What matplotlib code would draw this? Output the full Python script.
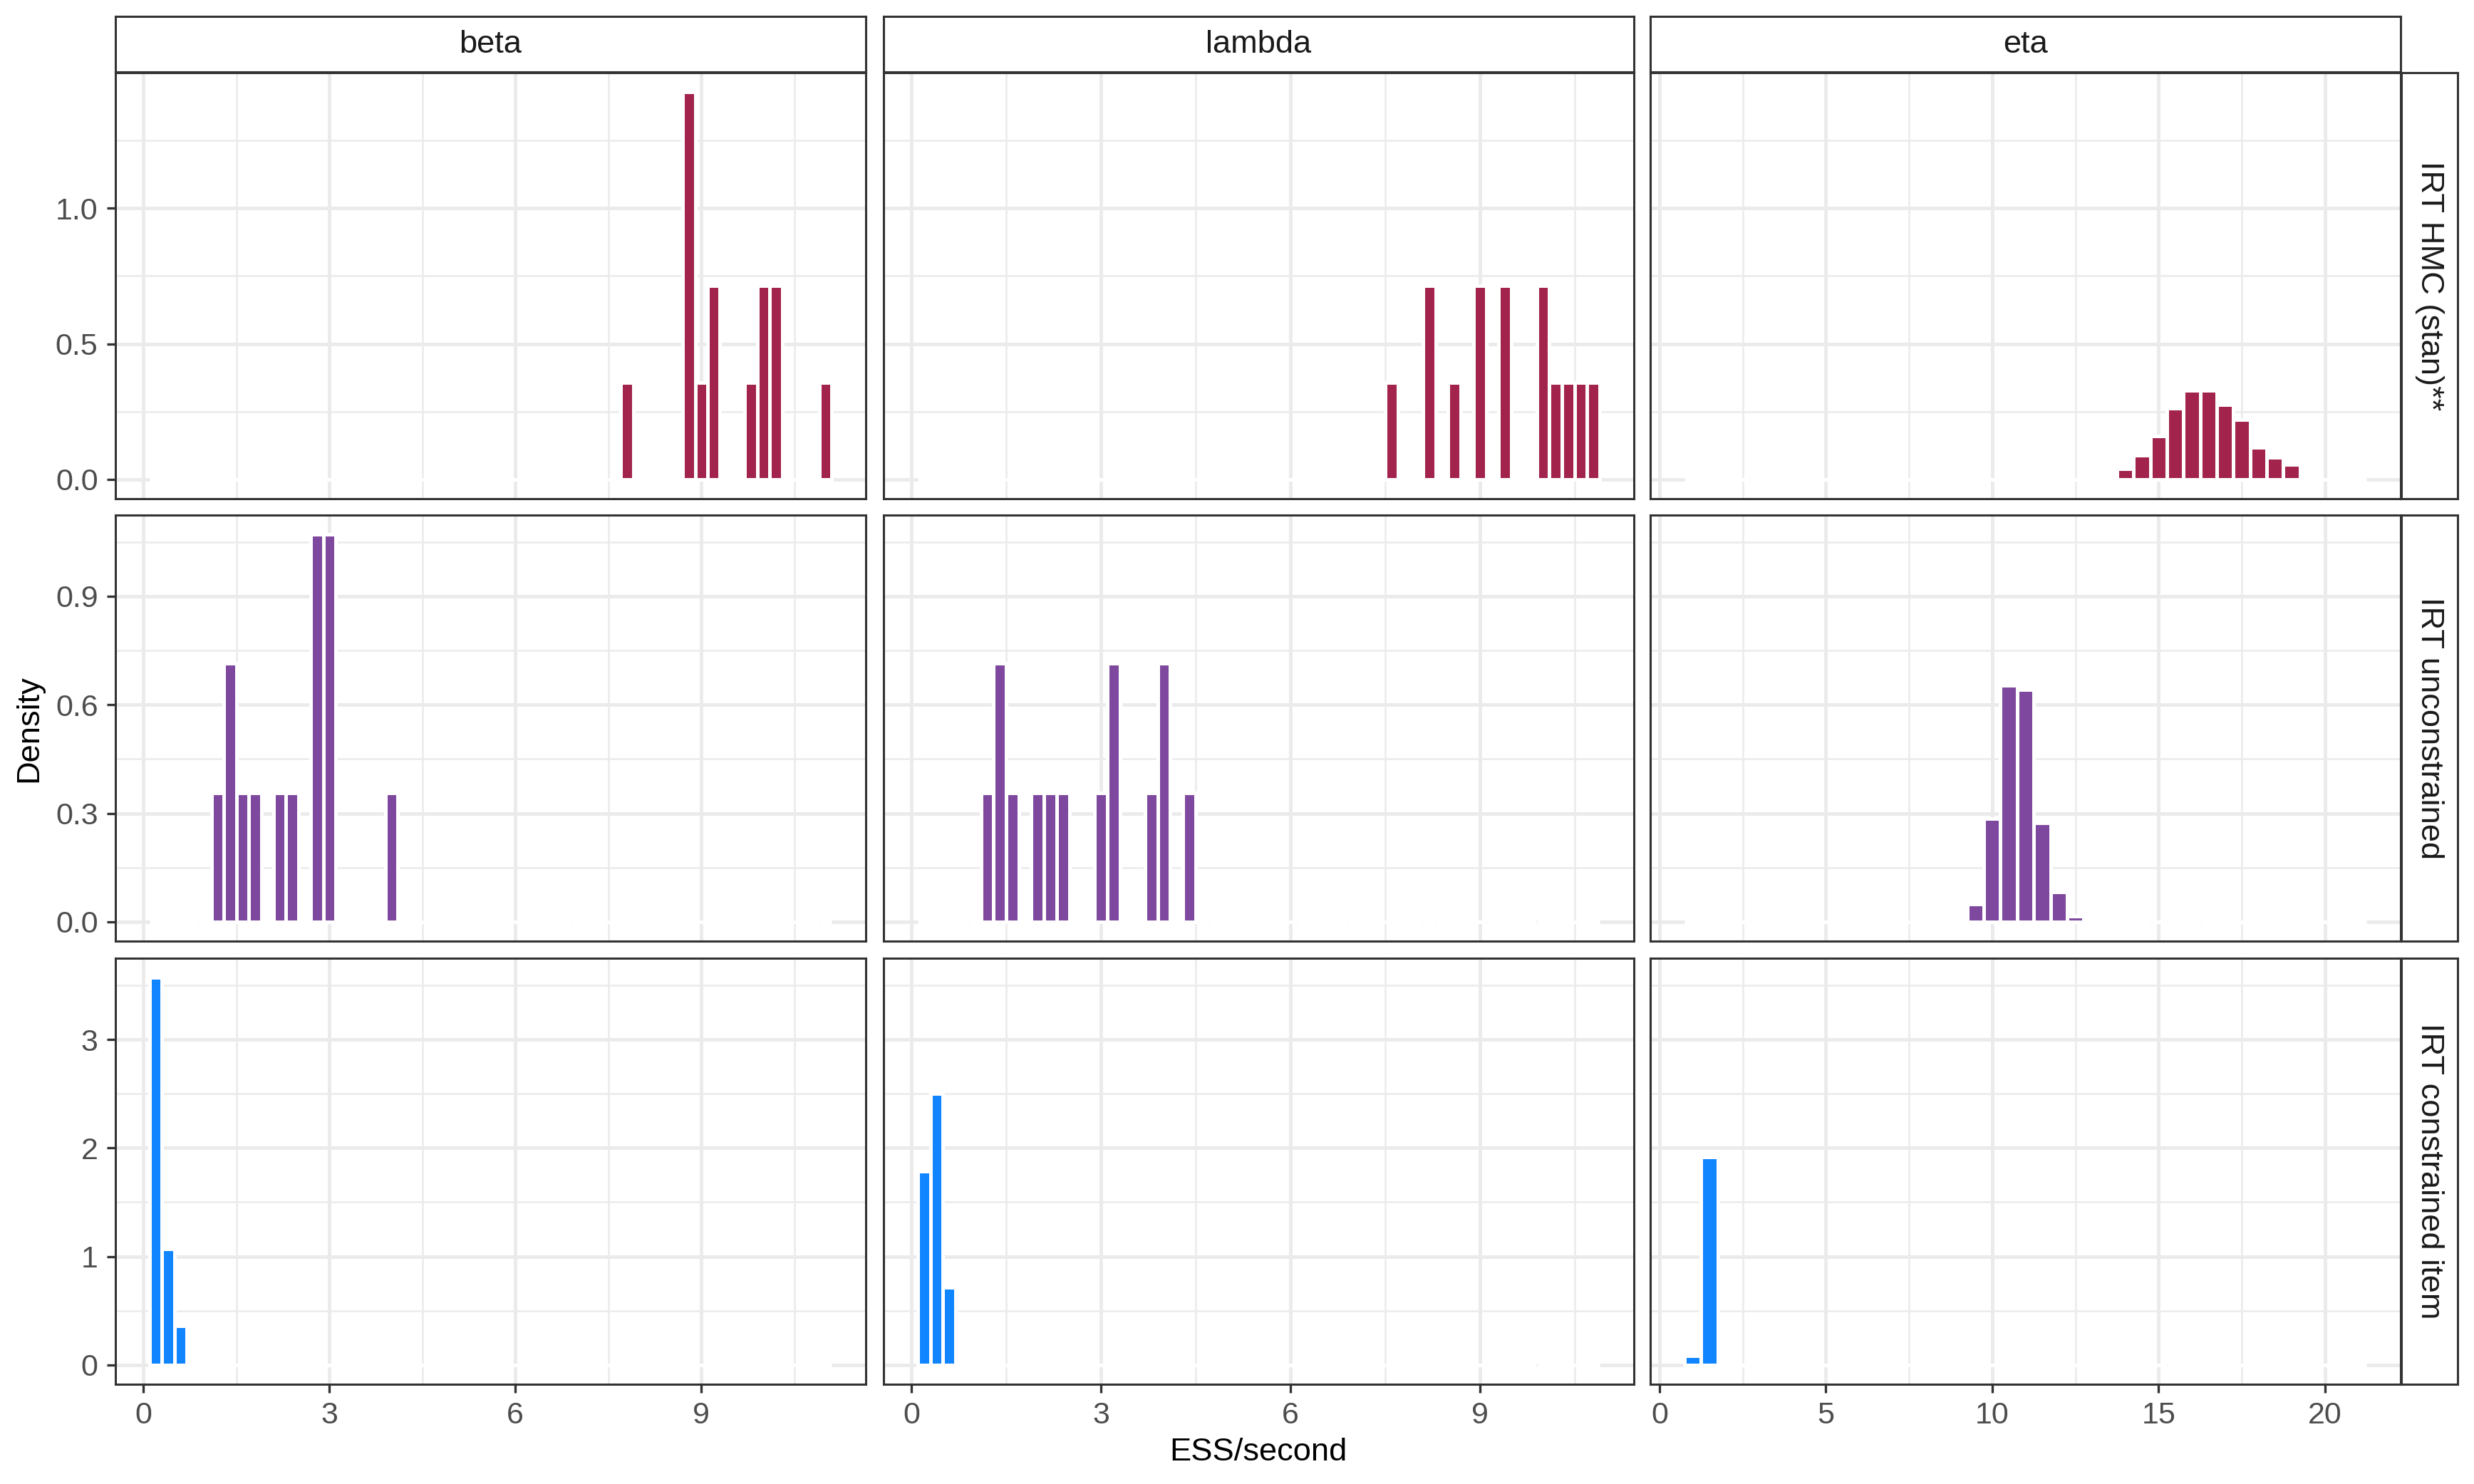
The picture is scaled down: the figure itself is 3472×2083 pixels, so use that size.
import numpy as np
import matplotlib
matplotlib.use("Agg")
import matplotlib.pyplot as plt

plt.rcParams['font.family'] = ['Liberation Sans', 'DejaVu Sans']

# ---------------- data ----------------
columns = ["beta", "lambda", "eta"]
rows = ["IRT HMC (stan)**", "IRT unconstrained", "IRT constrained item"]
row_colors = ["#A2234B", "#7E489E", "#1185FF"]

# histogram bin grid per column: first centre, last centre, bin width
bin_first = {"beta": 0.2, "lambda": 0.2, "eta": 1.0}
bin_last = {"beta": 11.0, "lambda": 10.8, "eta": 21.0}
bin_width = {"beta": 0.2, "lambda": 0.2, "eta": 0.5}

# non-empty bins: centres and densities
hmc_beta_x = [7.8, 8.8, 9.0, 9.2, 9.8, 10.0, 10.2, 11.0]
hmc_beta_y = [0.357, 1.429, 0.357, 0.714, 0.357, 0.714, 0.714, 0.357]
hmc_lambda_x = [7.6, 8.2, 8.6, 9.0, 9.4, 10.0, 10.2, 10.4, 10.6, 10.8]
hmc_lambda_y = [0.357, 0.714, 0.357, 0.714, 0.714, 0.714, 0.357, 0.357, 0.357, 0.357]
hmc_eta_x = [14.0, 14.5, 15.0, 15.5, 16.0, 16.5, 17.0, 17.5, 18.0, 18.5, 19.0]
hmc_eta_y = [0.039, 0.089, 0.159, 0.263, 0.329, 0.329, 0.275, 0.221, 0.118, 0.082, 0.055]

unc_beta_x = [1.2, 1.4, 1.6, 1.8, 2.2, 2.4, 2.8, 3.0, 4.0]
unc_beta_y = [0.357, 0.714, 0.357, 0.357, 0.357, 0.357, 1.071, 1.071, 0.357]
unc_lambda_x = [1.2, 1.4, 1.6, 2.0, 2.2, 2.4, 3.0, 3.2, 3.8, 4.0, 4.4]
unc_lambda_y = [0.357, 0.714, 0.357, 0.357, 0.357, 0.357, 0.357, 0.714, 0.357, 0.714, 0.357]
unc_eta_x = [9.5, 10.0, 10.5, 11.0, 11.5, 12.0, 12.5]
unc_eta_y = [0.048, 0.285, 0.653, 0.641, 0.273, 0.082, 0.016]

con_beta_x = [0.2, 0.4, 0.6]
con_beta_y = [3.571, 1.071, 0.357]
con_lambda_x = [0.2, 0.4, 0.6]
con_lambda_y = [1.786, 2.500, 0.714]
con_eta_x = [1.0, 1.5]
con_eta_y = [0.087, 1.919]

panel_data = {
    (0, "beta"): (hmc_beta_x, hmc_beta_y),
    (0, "lambda"): (hmc_lambda_x, hmc_lambda_y),
    (0, "eta"): (hmc_eta_x, hmc_eta_y),
    (1, "beta"): (unc_beta_x, unc_beta_y),
    (1, "lambda"): (unc_lambda_x, unc_lambda_y),
    (1, "eta"): (unc_eta_x, unc_eta_y),
    (2, "beta"): (con_beta_x, con_beta_y),
    (2, "lambda"): (con_lambda_x, con_lambda_y),
    (2, "eta"): (con_eta_x, con_eta_y),
}

x_major = {"beta": [0, 3, 6, 9], "lambda": [0, 3, 6, 9], "eta": [0, 5, 10, 15, 20]}
x_minor = {"beta": [1.5, 4.5, 7.5, 10.5], "lambda": [1.5, 4.5, 7.5, 10.5],
           "eta": [2.5, 7.5, 12.5, 17.5]}
x_labels = {"beta": ["0", "3", "6", "9"], "lambda": ["0", "3", "6", "9"],
            "eta": ["0", "5", "10", "15", "20"]}
y_major = [[0.0, 0.5, 1.0], [0.0, 0.3, 0.6, 0.9], [0, 1, 2, 3]]
y_minor = [[0.25, 0.75, 1.25], [0.15, 0.45, 0.75, 1.05], [0.5, 1.5, 2.5, 3.5]]
y_labels = [["0.0", "0.5", "1.0"], ["0.0", "0.3", "0.6", "0.9"], ["0", "1", "2", "3"]]

# ---------------- layout ----------------
W, H = 3472, 2083
DPI = 200
fig = plt.figure(figsize=(W / DPI, H / DPI), dpi=DPI)
fig.patch.set_facecolor("white")

col_left = [162, 1240, 2316]
col_w = 1053
row_top = [102, 723, 1345]
row_h = 598

def fx(px):
    return px / W

def fy(py):
    return 1 - py / H

BORDER = "#333333"
GRID = "#EBEBEB"
TICK_FS = 15.5
TITLE_FS = 16.3
STRIP_FS = 16.3

# row y-limits from max density with 5% expansion
row_max = []
for r in range(3):
    m = max(max(panel_data[(r, c)][1]) for c in columns)
    row_max.append(m)

for r in range(3):
    for ci, c in enumerate(columns):
        ax = fig.add_axes([fx(col_left[ci]), fy(row_top[r] + row_h), fx(col_w), row_h / H])
        ax.set_facecolor("white")
        bw = bin_width[c]
        nb = int(round((bin_last[c] - bin_first[c]) / bw)) + 1
        centers = np.round(bin_first[c] + bw * np.arange(nb), 4)
        xs, ys = panel_data[(r, c)]
        lookup = {round(x, 4): y for x, y in zip(xs, ys)}
        heights = [lookup.get(round(float(cc), 4), 0.0) for cc in centers]
        ax.bar(centers, heights, width=bw, color=row_colors[r], edgecolor="white",
               linewidth=1.8, zorder=2)
        lo = bin_first[c] - bw / 2
        hi = bin_last[c] + bw / 2
        span = hi - lo
        ax.set_xlim(lo - 0.05 * span, hi + 0.05 * span)
        ax.set_ylim(-0.05 * row_max[r], 1.05 * row_max[r])

        ax.set_xticks(x_major[c])
        ax.set_xticks(x_minor[c], minor=True)
        ax.set_yticks(y_major[r])
        ax.set_yticks(y_minor[r], minor=True)
        ax.set_axisbelow(True)
        ax.grid(which="major", color=GRID, linewidth=1.8, zorder=0)
        ax.grid(which="minor", color=GRID, linewidth=0.9, zorder=0)

        ax.tick_params(which="minor", length=0)
        ax.tick_params(which="major", length=4.3, width=1.2, color=BORDER,
                       labelsize=TICK_FS, labelcolor="#4D4D4D", pad=4.5)
        if r == 2:
            ax.set_xticklabels(x_labels[c])
        else:
            ax.tick_params(axis="x", which="major", length=0, labelbottom=False)
        if ci == 0:
            ax.set_yticklabels(y_labels[r])
        else:
            ax.tick_params(axis="y", which="major", length=0, labelleft=False)

        for s in ax.spines.values():
            s.set_color(BORDER)
            s.set_linewidth(1.1)
            s.set_zorder(5)

# top strips
for ci, c in enumerate(columns):
    sax = fig.add_axes([fx(col_left[ci]), fy(101), fx(col_w), (101 - 23) / H])
    sax.set_facecolor("white")
    sax.set_xticks([]); sax.set_yticks([])
    for s in sax.spines.values():
        s.set_color(BORDER); s.set_linewidth(1.1)
    sax.text(0.5, 0.5, c, ha="center", va="center", fontsize=STRIP_FS,
             color="#1A1A1A", transform=sax.transAxes)

# right strips
for r in range(3):
    sax = fig.add_axes([fx(3370), fy(row_top[r] + row_h), fx(3449 - 3370), row_h / H])
    sax.set_facecolor("white")
    sax.set_xticks([]); sax.set_yticks([])
    for s in sax.spines.values():
        s.set_color(BORDER); s.set_linewidth(1.1)
    sax.text(0.5, 0.5, rows[r], ha="center", va="center", fontsize=STRIP_FS,
             color="#1A1A1A", rotation=270, transform=sax.transAxes)

# axis titles
fig.text(fx((col_left[0] + col_left[2] + col_w) / 2), fy(2038), "ESS/second",
         ha="center", va="center", fontsize=TITLE_FS, color="black")
fig.text(fx(41), fy((row_top[0] + row_top[2] + row_h) / 2), "Density",
         ha="center", va="center", rotation=90, fontsize=TITLE_FS, color="black")

fig.savefig("out.png", dpi=DPI, facecolor="white")
